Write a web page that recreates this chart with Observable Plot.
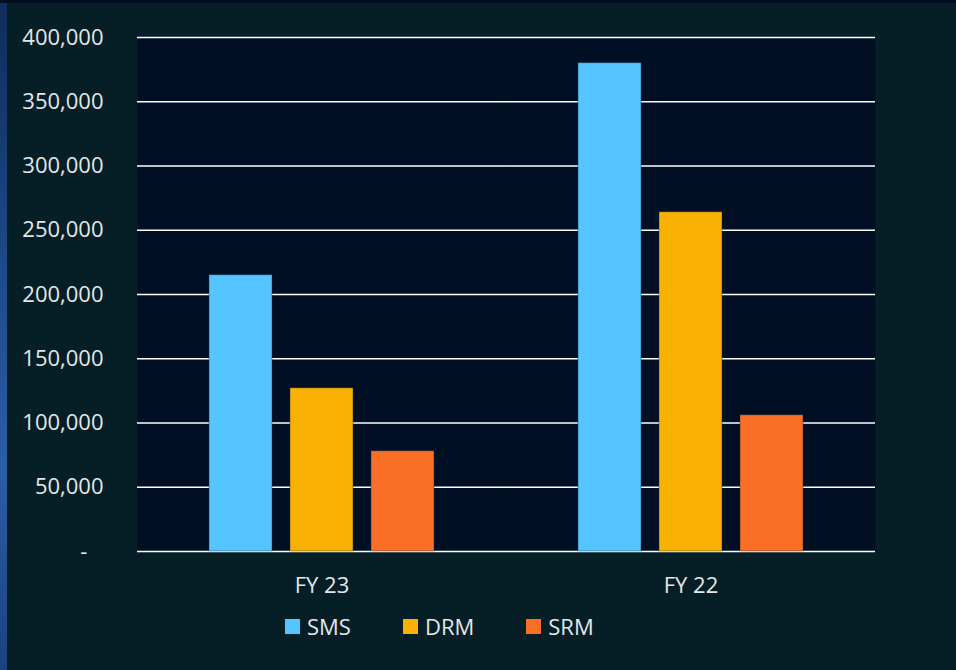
<!DOCTYPE html>
<html>
<head>
<meta charset="utf-8">
<script src="https://cdn.jsdelivr.net/npm/d3@7"></script>
<script src="https://cdn.jsdelivr.net/npm/@observablehq/plot@0.6"></script>
<style>
  html, body { margin: 0; padding: 0; background: #061f26; }
  body { width: 956px; height: 670px; overflow: hidden; position: relative; font-family: "Open Sans", sans-serif; }
  #edgeLeft { position: absolute; left: 0; top: 0; width: 7px; height: 670px; background: linear-gradient(180deg, #0f2c5c 0%, #1d4a8a 40%, #2a5ea8 70%, #1a4280 100%); z-index: 2; }
  #edgeTop { position: absolute; left: 0; top: 0; width: 956px; height: 3px; background: #020f21; z-index: 2; }
  #chart svg { display: block; }
  #legend { display: flex; align-items: center; padding-left: 285px; margin-top: 11px; color: #e4e6e8; font-size: 22px; }
  .item { display: flex; align-items: center; margin-right: 52px; }
  .sw { width: 15px; height: 15px; margin-right: 7px; }
</style>
</head>
<body>
<div id="edgeLeft"></div>
<div id="edgeTop"></div>
<div id="chart"></div>
<div id="legend"></div>
<script>
const years = ["FY 23", "FY 22"];
const series = ["SMS", "DRM", "SRM"];
const colors = ["#56c5ff", "#f9b104", "#f96f26"];
const valuesFY23 = [215000, 127000, 78000];
const valuesFY22 = [380000, 264000, 106000];
const yTicks = [0, 50000, 100000, 150000, 200000, 250000, 300000, 350000, 400000];

const rows = [];
[valuesFY23, valuesFY22].forEach((vals, i) => {
  series.forEach((s, j) => rows.push({year: years[i], series: s, value: vals[j]}));
});

const fmt = d3.format(",");
const plot = Plot.plot({
  width: 956,
  height: 600,
  marginLeft: 137,
  marginRight: 81,
  marginTop: 37,
  marginBottom: 49,
  style: {background: "transparent", color: "#e4e6e8", fontFamily: "Open Sans, sans-serif", fontSize: "22px"},
  fx: {domain: years, padding: 0, label: null, tickSize: 0, tickPadding: 26},
  x: {domain: series, paddingInner: 0.2195, paddingOuter: 0.86, axis: null},
  y: {domain: [0, 400000], ticks: yTicks, tickFormat: d => d === 0 ? "-\u2007\u2009" : fmt(d), tickSize: 0, tickPadding: 34, label: null},
  color: {domain: series, range: colors},
  marks: [
    Plot.frame({fill: "#000f24", stroke: null}),
    Plot.ruleY(yTicks, {stroke: "#ffffff", strokeWidth: 1.6}),
    Plot.barY(rows, {fx: "year", x: "series", y: "value", fill: "series", stroke: "#0b2a44", strokeOpacity: 0.4, strokeWidth: 1})
  ]
});
document.getElementById("chart").appendChild(plot);

const legend = document.getElementById("legend");
series.forEach((s, i) => {
  const it = document.createElement("div");
  it.className = "item";
  const sw = document.createElement("span");
  sw.className = "sw";
  sw.style.background = colors[i];
  const t = document.createElement("span");
  t.textContent = s;
  it.appendChild(sw); it.appendChild(t);
  legend.appendChild(it);
});
</script>
</body>
</html>
